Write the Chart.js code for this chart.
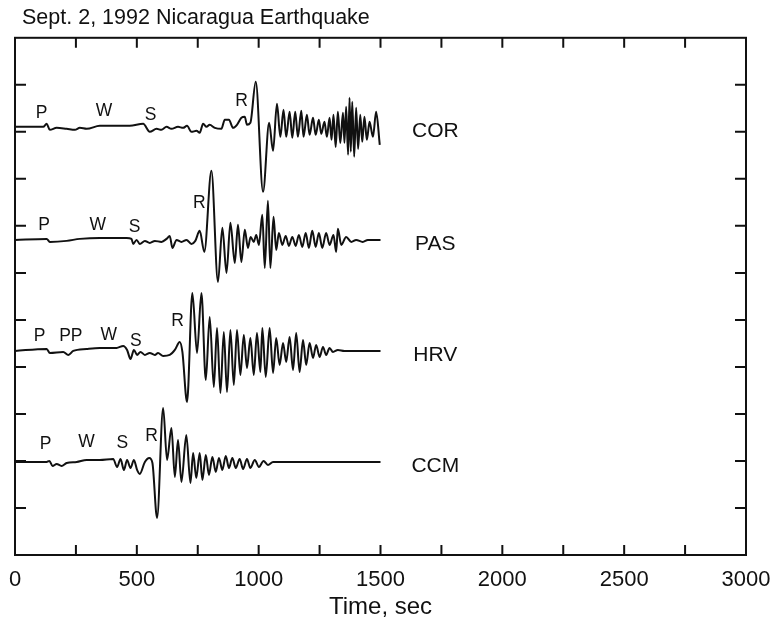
<!DOCTYPE html>
<html>
<head>
<meta charset="utf-8">
<title>Sept. 2, 1992 Nicaragua Earthquake</title>
<script src="https://cdn.jsdelivr.net/npm/chart.js@4.4.1/dist/chart.umd.min.js"></script>
<style>
  html, body { margin: 0; padding: 0; background: #fff; }
  #wrap { width: 775px; height: 622px; }
</style>
</head>
<body>
<div id="wrap"><canvas id="seismo" width="775" height="622"></canvas></div>
<script>
// Stations, top to bottom, and where each trace sits on the amplitude axis
const stations = ['COR', 'PAS', 'HRV', 'CCM'];
const baselines = [428, 315, 204, 93];

// Traces as [time (sec), amplitude] pairs
const corTrace = [
    [0, 0], [116, 0], [130, 3], [143, -3], [171, -1], [212, -2], [246, -3], [266, -1], [294, -2],
    [348, 1], [430, 1], [471, 1], [526, 3], [553, -5], [581, -2], [601, -3], [622, 0], [642, -2],
    [669, 0], [690, -1], [706, 1], [724, -5], [745, -4], [758, -6], [772, 3], [786, 0], [799, 2],
    [820, -1], [847, -2], [861, 7], [878, 7], [895, -1], [911, 2], [929, 9], [943, 10], [952, 2],
    [966, 4], [988, 45], [1018, -65], [1043, 4], [1059, -24], [1075, 23], [1089, -10], [1102, 17],
    [1113, -10], [1127, 15], [1138, -11], [1150, 15], [1161, -10], [1175, 16], [1184, -10],
    [1198, 12], [1209, -8], [1223, 9], [1234, -8], [1247, 7], [1257, -7], [1270, 5], [1280, -10],
    [1291, 9], [1299, -13], [1307, 12], [1316, -20], [1325, 15], [1335, -16], [1346, 14],
    [1352, -16], [1359, 20], [1367, -28], [1373, 29], [1378, -25], [1384, 25], [1392, -30],
    [1400, 19], [1408, -22], [1417, 12], [1425, -15], [1434, 10], [1444, -13], [1455, 5],
    [1469, -10], [1482, 15], [1497, -18]
];

const pasTrace = [
    [0, 0], [130, 1], [143, -2], [212, -1], [266, 1], [348, 2], [458, 2], [478, 1], [485, -4],
    [499, 0], [512, -4], [533, -1], [553, -3], [574, -1], [601, -2], [622, 1], [635, 4], [646, -8],
    [663, 0], [683, -2], [704, 0], [724, -4], [740, -1], [758, 9], [777, -12], [806, 69],
    [833, -42], [851, 12], [868, -33], [884, 17], [902, -23], [915, 15], [929, -22], [943, 10],
    [956, -8], [967, 3], [980, -2], [990, 5], [1001, -5], [1015, 25], [1025, -28], [1038, 39],
    [1048, -28], [1061, 23], [1072, -10], [1083, 7], [1097, -5], [1111, 4], [1124, -6], [1138, 3],
    [1152, -6], [1165, 5], [1179, -7], [1193, 7], [1206, -8], [1220, 9], [1234, -7], [1247, 7],
    [1261, -8], [1277, 7], [1291, -5], [1307, 5], [1318, -12], [1325, 11], [1339, -5], [1359, 3],
    [1380, -2], [1400, 0], [1427, -2], [1448, 0], [1500, 0]
];

const hrvTrace = [
    [0, 0], [130, 2], [143, -2], [198, -1], [219, -4], [239, 0], [294, 2], [348, 3], [417, 3],
    [444, 5], [460, 1], [474, -8], [488, 1], [501, -4], [515, -1], [533, -4], [553, -2], [574, -4],
    [587, -2], [608, -5], [635, -4], [656, 1], [676, 9], [687, -1], [706, -51], [728, 58],
    [747, -2], [765, 58], [783, -29], [799, 34], [816, -36], [829, 23], [843, -42], [857, 19],
    [870, -41], [884, 21], [898, -34], [911, 21], [925, -24], [939, 16], [952, -17], [966, 13],
    [980, -24], [993, 18], [1007, -21], [1015, 23], [1029, -26], [1045, 23], [1059, -22],
    [1072, 13], [1086, -14], [1100, 8], [1113, -11], [1127, 14], [1141, -19], [1154, 18],
    [1168, -21], [1182, 11], [1195, -14], [1209, 8], [1223, -7], [1236, 6], [1250, -6], [1264, 4],
    [1277, -4], [1291, 3], [1305, -1], [1325, 1], [1352, 0], [1500, 0]
];

const ccmTrace = [
    [0, 0], [130, 0], [141, 1], [154, -4], [171, -2], [191, -4], [212, -1], [253, 0], [294, 2],
    [348, 2], [403, 3], [419, -5], [433, 3], [447, -8], [460, 2], [474, -6], [488, 2], [501, -8],
    [512, -12], [533, 0], [551, 4], [564, -1], [583, -56], [608, 54], [624, 2], [642, 34],
    [656, -15], [669, 22], [683, -20], [703, 27], [720, -21], [731, 9], [744, -16], [758, 9],
    [769, -18], [783, 7], [796, -13], [810, 5], [824, -10], [837, 4], [851, -8], [865, 6],
    [878, -6], [892, 4], [906, -6], [922, 3], [936, -7], [952, 3], [966, -6], [984, 2],
    [1001, -5], [1020, 1], [1038, -3], [1059, 0], [1500, 0]
];

// Phase picks: [label, time (sec), height above the trace]
const corPhases = [['P', 109, 14], ['W', 365, 16], ['S', 556, 12], ['R', 930, 26]];
const pasPhases = [['P', 119, 15], ['W', 340, 15], ['S', 491, 13], ['R', 756, 37]];
const hrvPhases = [['P', 101, 15], ['PP', 229, 15], ['W', 385, 16], ['S', 496, 10], ['R', 667, 30]];
const ccmPhases = [['P', 126, 18], ['W', 293, 20], ['S', 441, 19], ['R', 560, 26]];

// Axis
const xTickValues = [0, 500, 1000, 1500, 2000, 2500, 3000];
const xTickLabels = ['0', '500', '1000', '1500', '2000', '2500', '3000'];

const traces = [corTrace, pasTrace, hrvTrace, ccmTrace];
const phases = [corPhases, pasPhases, hrvPhases, ccmPhases];
const FONT = '"Liberation Sans", Arial, Helvetica, sans-serif';
const INK = '#111';

Chart.defaults.font.family = FONT;
Chart.defaults.color = INK;

// Box with inward ticks on all four sides, plus the text marks
const framePlugin = {
    id: 'frame',
    afterLayout(chart) {
        // title sits a little right of the box edge
        if (chart.titleBlock) chart.titleBlock.left += 7;
    },
    afterDatasetsDraw(chart) {
        const { ctx, chartArea: a, scales: { x, y } } = chart;
        ctx.save();
        ctx.strokeStyle = INK;
        ctx.lineWidth = 2;
        ctx.strokeRect(a.left, a.top, a.right - a.left, a.bottom - a.top);

        ctx.beginPath();
        x.ticks.forEach(t => {
            const px = x.getPixelForValue(t.value);
            if (px <= a.left + 1 || px >= a.right - 1) return;
            ctx.moveTo(px, a.bottom); ctx.lineTo(px, a.bottom - 10);
            ctx.moveTo(px, a.top); ctx.lineTo(px, a.top + 10);
        });
        y.ticks.forEach(t => {
            const py = y.getPixelForValue(t.value);
            if (py <= a.top + 1 || py >= a.bottom - 1) return;
            ctx.moveTo(a.left, py); ctx.lineTo(a.left + 11, py);
            ctx.moveTo(a.right, py); ctx.lineTo(a.right - 11, py);
        });
        ctx.stroke();

        ctx.fillStyle = INK;
        ctx.textAlign = 'center';
        ctx.textBaseline = 'middle';
        ctx.font = '17.5px ' + FONT;
        phases.forEach((list, i) => {
            list.forEach(([name, t, h]) => {
                ctx.fillText(name, x.getPixelForValue(t), y.getPixelForValue(baselines[i] + h));
            });
        });
        ctx.font = '21px ' + FONT;
        stations.forEach((s, i) => {
            ctx.fillText(s, x.getPixelForValue(1725), y.getPixelForValue(baselines[i] - 4));
        });
        ctx.restore();
    }
};

new Chart(document.getElementById('seismo'), {
    type: 'line',
    data: {
        datasets: traces.map((trace, i) => ({
            label: stations[i],
            data: trace.map(([t, a]) => ({ x: t, y: baselines[i] + a })),
            borderColor: INK,
            borderWidth: 2,
            pointRadius: 0,
            fill: false,
            cubicInterpolationMode: 'monotone'
        }))
    },
    options: {
        responsive: false,
        animation: false,
        layout: { padding: { left: 15, right: 29, top: 0, bottom: 0 } },
        plugins: {
            legend: { display: false },
            tooltip: { enabled: false },
            title: {
                display: true,
                text: 'Sept. 2, 1992 Nicaragua Earthquake',
                align: 'start',
                color: INK,
                font: { size: 21.5, weight: 'normal' },
                padding: { top: 5, bottom: 7 }
            }
        },
        scales: {
            x: {
                type: 'linear',
                min: 0,
                max: 3000,
                grid: { display: false, drawTicks: false },
                border: { display: false },
                // fixed band under the plot box, no extra side padding for end labels
                afterFit: scale => {
                    scale.height = 67;
                    scale.paddingLeft = 0;
                    scale.paddingRight = 0;
                },
                ticks: {
                    stepSize: 250,
                    autoSkip: false,
                    maxRotation: 0,
                    padding: 12,
                    font: { size: 22 },
                    color: INK,
                    callback: v => {
                        const k = xTickValues.indexOf(v);
                        return k >= 0 ? xTickLabels[k] : '';
                    }
                },
                title: {
                    display: true,
                    text: 'Time, sec',
                    color: INK,
                    font: { size: 24 },
                    padding: { top: 0, bottom: 0 }
                }
            },
            y: {
                type: 'linear',
                min: 0,
                max: 517,
                grid: { display: false, drawTicks: false },
                border: { display: false },
                ticks: { display: false, stepSize: 47 }
            }
        }
    },
    plugins: [framePlugin]
});
</script>
</body>
</html>
